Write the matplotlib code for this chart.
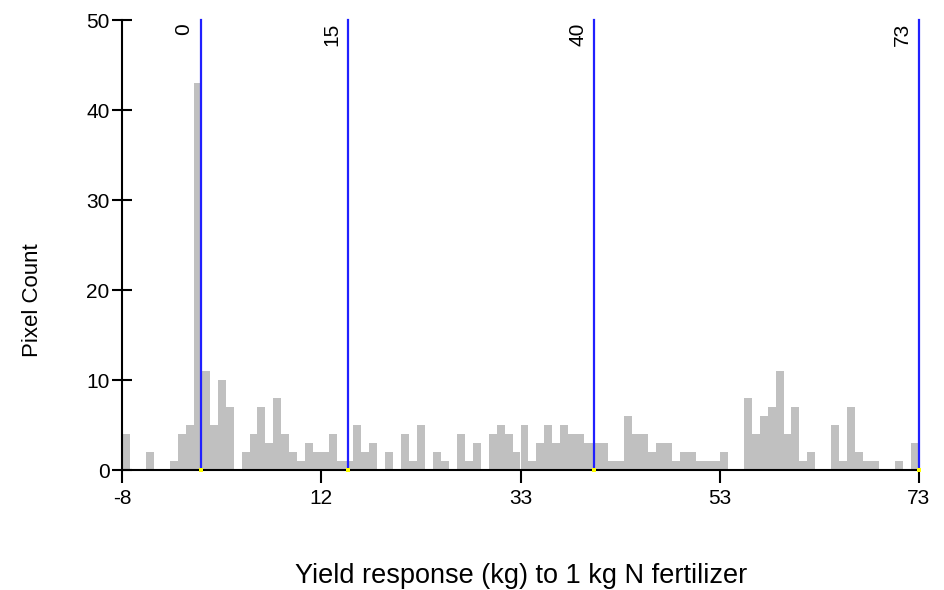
import numpy as np
import matplotlib
matplotlib.use("Agg")
import matplotlib.pyplot as plt

# ---- data ----
x_min, x_max, n_bins = -8.0, 73.0, 100
counts = [4, 0, 0, 2, 0, 0, 1, 4, 5, 43,
          11, 5, 10, 7, 0, 2, 4, 7, 3, 8,
          4, 2, 1, 3, 2, 2, 4, 1, 1, 5,
          2, 3, 0, 2, 0, 4, 1, 5, 0, 2,
          1, 0, 4, 1, 3, 0, 4, 5, 4, 2,
          5, 1, 3, 5, 3, 5, 4, 4, 3, 3,
          3, 1, 1, 6, 4, 4, 2, 3, 3, 1,
          2, 2, 1, 1, 1, 2, 0, 0, 8, 4,
          6, 7, 11, 4, 7, 1, 2, 0, 0, 5,
          1, 7, 2, 1, 1, 0, 0, 1, 0, 3]
threshold_values = [0, 15, 40, 73]
threshold_labels = ["0", "15", "40", "73"]
xtick_values = [-8, 12.25, 32.5, 52.75, 73]
xtick_labels = ["-8", "12", "33", "53", "73"]
ytick_values = [0, 10, 20, 30, 40, 50]
xlabel = "Yield response (kg) to 1 kg N fertilizer"
ylabel = "Pixel Count"

plt.rcParams['font.family'] = ['Liberation Sans', 'DejaVu Sans']

W, H = 944, 590
fig = plt.figure(figsize=(W / 100, H / 100), dpi=100)
ax = fig.add_axes([122 / W, 120 / H, (919 - 122) / W, (470 - 20) / H])

edges = np.linspace(x_min, x_max, n_bins + 1)
ax.bar(edges[:-1], counts, width=np.diff(edges), align='edge',
       color='#c0c0c0', edgecolor='none', linewidth=0, zorder=1)

for v in threshold_values:
    ax.axvline(v, color='#2020ff', lw=1.6, zorder=3, clip_on=False)
for v, lab in zip(threshold_values, threshold_labels):
    ax.annotate(lab, xy=(v, 50), xycoords='data', xytext=(-12, -2),
                textcoords='offset points', rotation=90, ha='center', va='top',
                fontsize=15)
ax.scatter(threshold_values, [0] * len(threshold_values), marker='s', s=5,
           color='#ffff00', zorder=5, clip_on=False, linewidths=0)

ax.set_xlim(x_min, x_max)
ax.set_ylim(0, 50)
ax.set_xticks(xtick_values)
ax.set_xticklabels(xtick_labels)
ax.set_yticks(ytick_values)
for s in ['top', 'right']:
    ax.spines[s].set_visible(False)
for s in ['left', 'bottom']:
    ax.spines[s].set_linewidth(1.5)
    ax.spines[s].set_color('black')
    ax.spines[s].set_zorder(4)
ax.tick_params(axis='y', direction='inout', length=15, width=1.5, pad=1.5,
               labelsize=15)
ax.tick_params(axis='x', direction='out', length=9, width=1.5, pad=5,
               labelsize=15)

fig.text(521 / W, 1 - 576 / H, xlabel, ha='center', va='center', fontsize=19.5)
fig.text(33 / W, 1 - 300 / H, ylabel, ha='center', va='center', rotation=90,
         fontsize=16)

fig.savefig('out.png', dpi=100)
